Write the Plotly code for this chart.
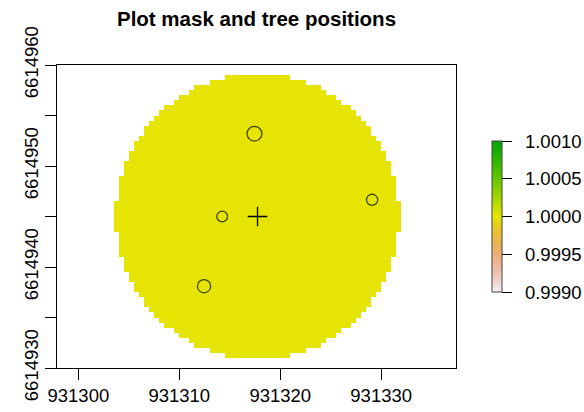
import colorsys
import numpy as np
import plotly.graph_objects as go

# ---------------- data ----------------
title_text = "Plot mask and tree positions"

plot_center_x = 931317.75
plot_center_y = 6614945.0
plot_radius_m = 14.1
cell_size_m = 0.5
mask_value = 1.0

tree_x = [931317.45, 931314.25, 931329.10, 931312.45]
tree_y = [6614953.2, 6614945.0, 6614946.65, 6614938.1]
tree_dbh_cm = [37, 27, 28, 33]

x_tick_vals = [931300, 931310, 931320, 931330]
x_tick_text = ["931300", "931310", "931320", "931330"]
y_tick_vals = [6614930, 6614935, 6614940, 6614945, 6614950, 6614955, 6614960]
y_tick_text = ["6614930", "", "6614940", "", "6614950", "", "6614960"]
cbar_tick_vals = [0.9990, 0.9995, 1.0000, 1.0005, 1.0010]
cbar_tick_text = ["0.9990", "0.9995", "1.0000", "1.0005", "1.0010"]
z_min, z_max = 0.9990, 1.0010

# ---------------- mask raster ----------------
n_half = 30
cell_x = plot_center_x + cell_size_m * np.arange(-n_half, n_half + 1)
cell_y = plot_center_y + cell_size_m * (np.arange(-n_half, n_half) + 0.5)
gx, gy = np.meshgrid(cell_x, cell_y)
inside = np.hypot(gx - plot_center_x, gy - plot_center_y) <= plot_radius_m
mask_z = np.where(inside, mask_value, np.nan)


# ---------------- colours: rev(terrain.colors(255)) ----------------
def terrain_colors(n):
    k = n // 2
    h = [4 / 12, 2 / 12, 0.0]
    s = [1.0, 1.0, 0.0]
    v = [0.65, 0.9, 0.95]
    out = []
    for i in range(k):
        t = i / (k - 1)
        out.append((h[0] + (h[1] - h[0]) * t, s[0] + (s[1] - s[0]) * t, v[0] + (v[1] - v[0]) * t))
    m = n - k + 1
    for i in range(1, m):
        t = i / (m - 1)
        out.append((h[1] + (h[2] - h[1]) * t, s[1] + (s[2] - s[1]) * t, v[1] + (v[2] - v[1]) * t))
    cols = []
    for hh, ss, vv in out:
        r, g, b = colorsys.hsv_to_rgb(hh, ss, vv)
        cols.append("rgb(%d,%d,%d)" % (round(r * 255), round(g * 255), round(b * 255)))
    return cols


pal = terrain_colors(255)[::-1]
colorscale = [[i / (len(pal) - 1), c] for i, c in enumerate(pal)]

FONT = "Liberation Sans, Arial, sans-serif"
W, H = 584, 412
L, R, T, B = 57.3, 455.7, 65.3, 367.7

cbar = dict(
    x=(491.7 - L) / (R - L), xanchor="left", xpad=0,
    y=(B - 216.6) / (B - T), yanchor="middle", ypad=0,
    len=151, lenmode="pixels", thickness=10,
    outlinewidth=1, outlinecolor="#444",
    tickmode="array", tickvals=cbar_tick_vals, ticktext=cbar_tick_text,
    ticks="outside", ticklen=10, tickwidth=1, tickcolor="black",
    tickfont=dict(family=FONT, size=18.5, color="black"),
)

fig = go.Figure()
try:
    hm = go.Heatmap(
        x=cell_x, y=cell_y, z=mask_z,
        zmin=z_min, zmax=z_max, colorscale=colorscale,
        hoverongaps=False, colorbar=dict(cbar, ticklabelstandoff=9),
    )
except Exception:
    cbar["ticktext"] = ["\u2002" + t for t in cbar_tick_text]
    hm = go.Heatmap(
        x=cell_x, y=cell_y, z=mask_z,
        zmin=z_min, zmax=z_max, colorscale=colorscale,
        hoverongaps=False, colorbar=cbar,
    )
fig.add_trace(hm)
fig.add_trace(go.Scatter(
    x=tree_x, y=tree_y, mode="markers",
    marker=dict(symbol="circle-open", size=[d * 0.4 for d in tree_dbh_cm],
                color="black", line=dict(width=1.3)),
    showlegend=False, hoverinfo="skip",
))
fig.add_trace(go.Scatter(
    x=[plot_center_x], y=[plot_center_y], mode="markers",
    marker=dict(symbol="cross-thin-open", size=14, color="black", line=dict(width=1.3)),
    showlegend=False, hoverinfo="skip",
))

px_per_m = (B - T) / 30.0
x_left = 931300 - (78.6 - L) / px_per_m
x_right = x_left + (R - L) / px_per_m

fig.update_layout(
    template="none",
    width=W, height=H,
    margin=dict(l=L, r=W - R, t=T, b=H - B, pad=0, autoexpand=False),
    paper_bgcolor="white", plot_bgcolor="white",
    title=dict(text="<b>" + title_text + "</b>", x=(L + R) / 2 / W, xanchor="center",
               xref="container", y=1 - 19 / H, yanchor="middle", yref="container",
               font=dict(family=FONT, size=20.5, color="black")),
    font=dict(family=FONT, color="black"),
    showlegend=False,
)
fig.update_xaxes(
    automargin=False,
    range=[x_left, x_right], showgrid=False, zeroline=False,
    showline=True, mirror=True, linecolor="black", linewidth=1.2,
    tickmode="array", tickvals=x_tick_vals, ticktext=x_tick_text,
    ticks="outside", ticklen=10.5, tickwidth=1, tickcolor="black",
    tickfont=dict(family=FONT, size=18.5, color="black"),
)
fig.update_yaxes(
    automargin=False,
    range=[6614930, 6614960], showgrid=False, zeroline=False,
    showline=True, mirror=True, linecolor="black", linewidth=1.2,
    tickmode="array", tickvals=y_tick_vals, ticktext=y_tick_text,
    ticks="outside", ticklen=11, tickwidth=1, tickcolor="black", tickangle=-90,
    tickfont=dict(family=FONT, size=18.5, color="black"),
)

fig.write_html(
    "out.html",
    config={"displayModeBar": False},
    post_script="document.body.style.margin='0px';document.body.style.overflow='hidden';",
)
